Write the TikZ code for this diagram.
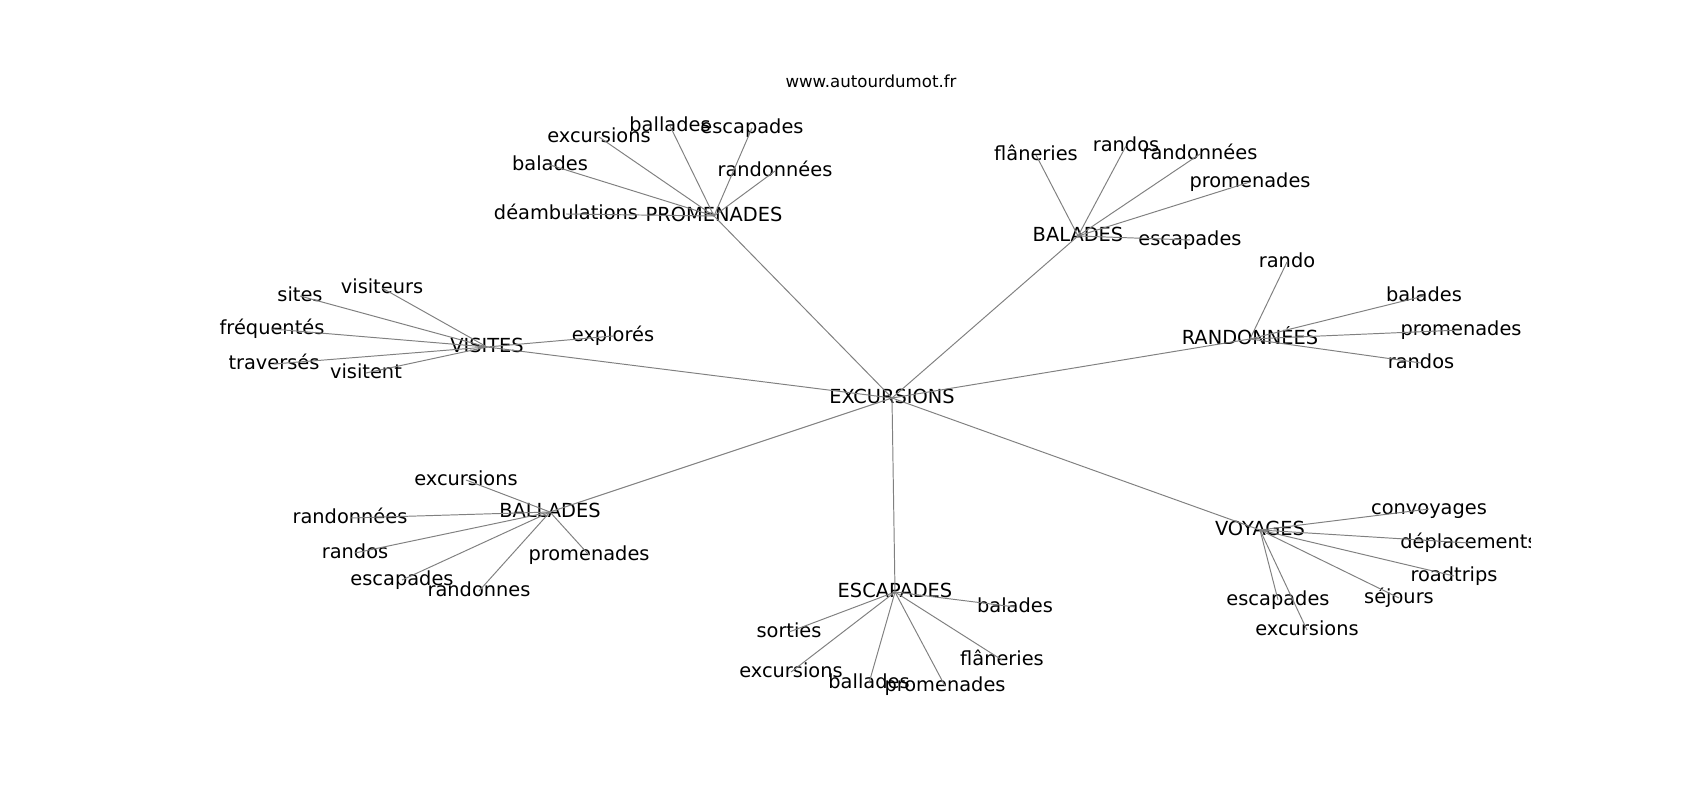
\documentclass[tikz,border=0pt]{standalone}
\usepackage{fontspec}
\setmainfont{DejaVu Sans}
\usepackage{tikz}
\usetikzlibrary{positioning}
\tikzset{
    x=0.01in, y=-0.01in, % one unit is one pixel of the figure
    word/.style={font=\fontsize{14}{17}\selectfont, inner sep=0pt, text height=10.6pt, text depth=3.3pt, anchor=center},
    link/.style={draw=black!50, line width=0.7pt},
}

\begin{document}
\begin{tikzpicture}
		\fill[white] (0,0) rectangle (1700,800);
		\useasboundingbox (0,0) rectangle (1700,800);
		\node[font=\fontsize{12}{14}\selectfont, anchor=base, inner sep=0pt] (title) at (871,88) {www.autourdumot.fr};
		\begin{scope}
		\clip (212,96) rectangle (1530,712);
		% hubs
		\node[word] (exc)  at (892,398)  {EXCURSIONS};
		\node[word] (prom) at (714,216)  {PROMENADES};
		\node[word] (bal)  at (1078,236) {BALADES};
		\node[word] (rand) at (1250,339) {RANDONNÉES};
		\node[word] (vis)  at (487,347)  {VISITES};
		\node[word] (ball) at (550,512)  {BALLADES};
		\node[word] (esc)  at (895,592)  {ESCAPADES};
		\node[word] (voy)  at (1260,530) {VOYAGES};
		% PROMENADES
		\node[word] (prom_1) at (566,214) {déambulations};
		\node[word] (prom_2) at (550,165) {balades};
		\node[word] (prom_3) at (599,137) {excursions};
		\node[word] (prom_4) at (670,126) {ballades};
		\node[word] (prom_5) at (752,128) {escapades};
		\node[word] (prom_6) at (775,171) {randonnées};
		% BALADES
		\node[word] (bal_1) at (1036,155) {flâneries};
		\node[word] (bal_2) at (1126,146) {randos};
		\node[word] (bal_3) at (1200,154) {randonnées};
		\node[word] (bal_4) at (1250,182) {promenades};
		\node[word] (bal_5) at (1190,240) {escapades};
		% RANDONNEES
		\node[word] (rand_1) at (1287,262) {rando};
		\node[word] (rand_2) at (1424,296) {balades};
		\node[word] (rand_3) at (1461,330) {promenades};
		\node[word] (rand_4) at (1421,363) {randos};
		% VISITES
		\node[word] (vis_1) at (382,288) {visiteurs};
		\node[word] (vis_2) at (300,296) {sites};
		\node[word] (vis_3) at (272,329) {fréquentés};
		\node[word] (vis_4) at (274,364) {traversés};
		\node[word] (vis_5) at (366,373) {visitent};
		\node[word] (vis_6) at (613,336) {explorés};
		% BALLADES
		\node[word] (ball_1) at (466,480) {excursions};
		\node[word] (ball_2) at (350,518) {randonnées};
		\node[word] (ball_3) at (355,553) {randos};
		\node[word] (ball_4) at (402,580) {escapades};
		\node[word] (ball_5) at (479,591) {randonnes};
		\node[word] (ball_6) at (589,555) {promenades};
		% ESCAPADES
		\node[word] (esc_1) at (789,632)  {sorties};
		\node[word] (esc_2) at (791,672)  {excursions};
		\node[word] (esc_3) at (869,683)  {ballades};
		\node[word] (esc_4) at (945,686)  {promenades};
		\node[word] (esc_5) at (1015,607) {balades};
		\node[word] (esc_6) at (1002,660) {flâneries};
		% VOYAGES
		\node[word] (voy_1) at (1429,509) {convoyages};
		\node[word] (voy_2) at (1469,543) {déplacements};
		\node[word] (voy_3) at (1454,576) {roadtrips};
		\node[word] (voy_4) at (1399,598) {séjours};
		\node[word] (voy_5) at (1278,600) {escapades};
		\node[word] (voy_6) at (1307,630) {excursions};
		\foreach \hub in {prom,bal,rand,vis,ball,esc,voy}
			\path[link] (exc.center) edge (\hub.center);
		\foreach \hub in {prom,vis,ball,esc,voy}
			\foreach \i in {1,...,6}
				\path[link] (\hub.center) edge (\hub_\i.center);
		\foreach \i in {1,...,5}
			\path[link] (bal.center) edge (bal_\i.center);
		\foreach \i in {1,...,4}
			\path[link] (rand.center) edge (rand_\i.center);
		\end{scope}
\end{tikzpicture}
\end{document}
